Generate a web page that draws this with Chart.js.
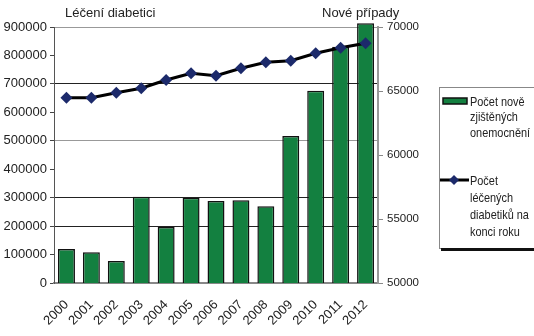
<!DOCTYPE html>
<html>
<head>
<meta charset="utf-8">
<script src="https://cdn.jsdelivr.net/npm/chart.js@4/dist/chart.umd.min.js"></script>
<style>
  html, body { margin: 0; padding: 0; background: #fff; }
  #wrap { width: 534px; height: 336px; position: relative; }
</style>
</head>
<body>
<div id="wrap"><canvas id="chart" width="534" height="336"></canvas></div>
<script>
const years = ['2000', '2001', '2002', '2003', '2004', '2005', '2006', '2007', '2008', '2009', '2010', '2011', '2012'];
const newCases = [52650, 52400, 51720, 56740, 54380, 56660, 56400, 56460, 56000, 61480, 65020, 68460, 70300];
const treated = [651400, 651400, 669000, 684500, 713700, 737000, 728800, 754800, 776000, 781500, 807500, 827000, 842700];
const barLabelLines = ['Počet nově', 'zjištěných', 'onemocnění'];
const lineLabelLines = ['Počet', 'léčených', 'diabetiků na', 'konci roku'];
const leftTitle = 'Léčení diabetici';
const rightTitle = 'Nové případy';

const regular = "'Liberation Sans', Arial, sans-serif";

// which left-axis values get a gridline in the original
function leftGrid(ctx) {
  const v = ctx.tick && ctx.tick.value;
  if (v === 700000 || v === 300000 || v === 200000) return '#222';
  if (v === 900000 || v === 500000) return '#999';
  return 'rgba(0,0,0,0)';
}

// squeezed text, the original uses a narrow face
function narrowText(ctx, t, x, y, k) {
  ctx.save();
  ctx.translate(x, y);
  ctx.scale(k, 1);
  ctx.fillText(t, 0, 0);
  ctx.restore();
}

const titlesAndLegend = {
  id: 'titlesAndLegend',
  afterDraw(chart) {
    const ctx = chart.ctx;
    ctx.save();
    ctx.fillStyle = '#222';
    ctx.textBaseline = 'middle';
    ctx.font = '13px ' + regular;
    ctx.textAlign = 'left';
    ctx.fillText(leftTitle, 65, 13);
    ctx.fillText(rightTitle, 322, 13);

    // legend box
    const bx = 439, by = 87, bw = 110, bh = 161;
    ctx.fillStyle = '#fff';
    ctx.fillRect(bx, by, bw, bh);
    ctx.strokeStyle = '#888';
    ctx.lineWidth = 1;
    ctx.strokeRect(bx + 0.5, by + 0.5, bw, bh);
    ctx.fillStyle = '#111';
    ctx.fillRect(bx + 2, by + bh, bw, 3);

    const ds0 = chart.data.datasets[0];
    const ds1 = chart.data.datasets[1];
    // bar swatch
    ctx.fillStyle = ds0.backgroundColor;
    ctx.fillRect(443, 98, 24, 6);
    ctx.strokeStyle = '#111';
    ctx.lineWidth = 1.5;
    ctx.strokeRect(443, 98, 24, 6);
    ctx.fillStyle = '#222';
    ctx.font = '13px ' + regular;
    barLabelLines.forEach((t, i) => narrowText(ctx, t, 470, 102 + i * 15.5, 0.84));

    // line swatch
    ctx.strokeStyle = ds1.borderColor;
    ctx.lineWidth = 3;
    ctx.beginPath();
    ctx.moveTo(440, 180);
    ctx.lineTo(469, 180);
    ctx.stroke();
    ctx.fillStyle = ds1.pointBackgroundColor;
    ctx.beginPath();
    ctx.moveTo(454, 175); ctx.lineTo(459, 180); ctx.lineTo(454, 185); ctx.lineTo(449, 180);
    ctx.closePath();
    ctx.fill();
    ctx.fillStyle = '#222';
    lineLabelLines.forEach((t, i) => narrowText(ctx, t, 470, 181 + i * 17, 0.84));
    ctx.restore();
  }
};

new Chart(document.getElementById('chart'), {
  type: 'bar',
  data: {
    labels: years,
    datasets: [
      {
        type: 'bar',
        label: barLabelLines.join(' '),
        data: newCases,
        yAxisID: 'yR',
        backgroundColor: '#138040',
        borderColor: '#111',
        borderWidth: 1.5,
        borderSkipped: 'bottom',
        barPercentage: 0.68,
        categoryPercentage: 1,
        clip: { left: 0, top: 6, right: 0, bottom: 0 },
        order: 2
      },
      {
        type: 'line',
        label: lineLabelLines.join(' '),
        data: treated,
        yAxisID: 'yL',
        borderColor: '#000',
        borderWidth: 3,
        pointStyle: 'rectRot',
        pointRadius: 6,
        pointBackgroundColor: '#1c2a6b',
        pointBorderColor: '#1c2a6b',
        pointBorderWidth: 0,
        tension: 0,
        order: 1
      }
    ]
  },
  options: {
    responsive: false,
    animation: false,
    layout: { padding: { top: 27, left: 0, right: 100, bottom: 0 } },
    plugins: {
      legend: { display: false },
      tooltip: { enabled: false }
    },
    scales: {
      x: {
        offset: true,
        grid: { display: false },
        border: { display: true, color: '#888', width: 2 },
        ticks: {
          autoSkip: false,
          minRotation: 45,
          maxRotation: 45,
          padding: 6,
          color: '#222',
          font: { family: regular, size: 13 }
        },
        afterFit(scale) { scale.height = 53; }
      },
      yL: {
        position: 'left',
        min: 0,
        max: 900000,
        ticks: {
          stepSize: 100000,
          padding: 3,
          color: '#222',
          font: { family: regular, size: 13 },
          callback: v => String(v)
        },
        grid: { color: leftGrid, tickColor: '#444', tickLength: 4, lineWidth: 1 },
        border: { display: true, color: '#555', width: 1 },
        afterFit(scale) { scale.width = 54; }
      },
      yR: {
        position: 'right',
        min: 50000,
        max: 70000,
        ticks: {
          stepSize: 5000,
          padding: 4,
          color: '#222',
          font: { family: regular, size: 11.5 },
          callback: v => String(v)
        },
        grid: { drawOnChartArea: false, color: '#888', tickLength: 5 },
        border: { display: true, color: '#999', width: 2 },
        afterFit(scale) { scale.width = 56; }
      }
    }
  },
  plugins: [titlesAndLegend]
});
</script>
</body>
</html>
